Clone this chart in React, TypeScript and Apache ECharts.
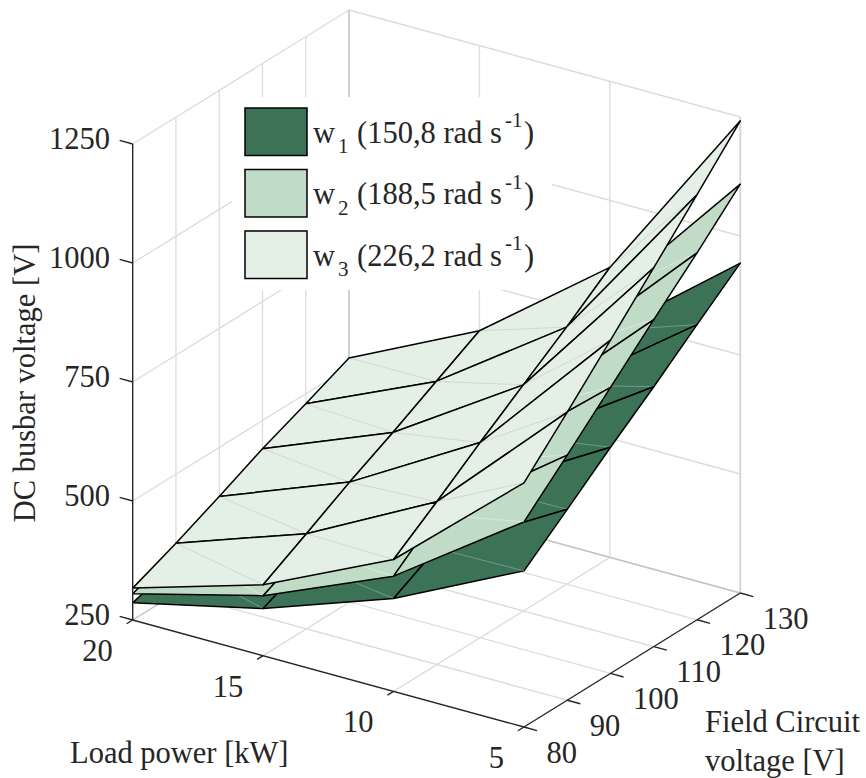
import React, { useEffect, useRef } from "react";
import * as echarts from "echarts";

const loadPower = [20, 15, 10, 5];
const fieldVoltage = [80, 90, 100, 110, 120, 130];
const busbarTicks = [250, 500, 750, 1000, 1250];
const gridLoad = [15, 10];
const gridVoltage = [90, 100, 110, 120];

// rows follow loadPower, columns follow fieldVoltage
const w1Values = [
  [286, 315, 345, 375, 405, 435],
  [349, 390, 430, 470, 510, 550],
  [445, 494, 567, 616, 668, 727],
  [578, 651, 725, 796, 870, 943],
];
const w2Values = [
  [305, 340, 375, 410, 445, 480],
  [376, 420, 465, 510, 555, 600],
  [492, 565, 622, 676, 748, 805],
  [681, 765, 851, 937, 1021, 1109],
];
const w3Values = [
  [317, 355, 397, 441, 479, 519],
  [399, 450, 502, 550, 601, 651],
  [527, 592, 660, 725, 790, 859],
  [763, 855, 950, 1046, 1143, 1242],
];

const legendNames = ["w", "w", "w"];
const legendSubs = ["1", "2", "3"];
const legendSpeeds = ["(150,8 rad s", "(188,5 rad s", "(226,2 rad s"];
const surfaceColors = ["#3c7357", "#c1dcc6", "#e4efe6"];
const seamColors = ["rgba(255,255,255,0.4)", "rgba(255,255,255,0.55)", "rgba(120,140,125,0.3)"];

const INK = "#262626";
const FONT = '"Liberation Serif", serif';
const FS = 30.5;

// orthographic projection of the 3D box onto the plot plane
const proj = (p: number, v: number, z: number): [number, number] => [
  132.7 + ((20 - p) / 15) * 391.3 + ((v - 80) / 50) * 216.3,
  620 + ((20 - p) / 15) * 107 - ((v - 80) / 50) * 134 - (z - 250) * 0.476,
];

type Seg = [[number, number, number], [number, number, number], string, number];

const gridSegs = (): Seg[] => {
  const s: Seg[] = [];
  const G = "#dcdcdc";
  const E = "#c4c4c4";
  for (const z of busbarTicks) {
    s.push([[20, 80, z], [20, 130, z], G, 1.3]);
    s.push([[20, 130, z], [5, 130, z], G, 1.3]);
  }
  for (const v of gridVoltage) {
    s.push([[20, v, 250], [20, v, 1250], G, 1.3]);
    s.push([[20, v, 250], [5, v, 250], G, 1.3]);
  }
  for (const p of gridLoad) {
    s.push([[p, 130, 250], [p, 130, 1250], G, 1.3]);
    s.push([[p, 80, 250], [p, 130, 250], G, 1.3]);
  }
  s.push([[20, 130, 250], [20, 130, 1250], E, 1.6]);
  s.push([[5, 130, 250], [5, 130, 1250], "#d4d4d4", 1.8]);
  s.push([[20, 130, 250], [5, 130, 250], E, 1.3]);
  s.push([[20, 80, 250], [20, 130, 250], E, 1.3]);
  return s;
};

const axisSegs = (): Seg[] => {
  const s: Seg[] = [];
  s.push([[20, 80, 250], [20, 80, 1250], INK, 1.4]);
  s.push([[20, 80, 250], [5, 80, 250], INK, 1.4]);
  s.push([[5, 80, 250], [5, 130, 250], INK, 1.4]);
  for (const z of busbarTicks) s.push([[20, 80, z], [20.5, 80, z], INK, 1.4]);
  for (const p of loadPower) s.push([[p, 80, 250], [p, 78.6, 250], INK, 1.4]);
  for (const v of fieldVoltage) s.push([[5, v, 250], [4.5, v, 250], INK, 1.4]);
  return s;
};

const lineSeries = (name: string, segs: Seg[], z: number) => ({
  type: "custom",
  name,
  coordinateSystem: "cartesian2d",
  silent: true,
  clip: false,
  z,
  data: segs.map((_, i) => [i]),
  renderItem: (params: any, api: any) => {
    const [a, b, color, w] = segs[params.dataIndex];
    const p1 = api.coord(proj(a[0], a[1], a[2]));
    const p2 = api.coord(proj(b[0], b[1], b[2]));
    return {
      type: "line",
      shape: { x1: p1[0], y1: p1[1], x2: p2[0], y2: p2[1] },
      style: { stroke: color, lineWidth: w, fill: "none" },
    };
  },
});

const surfaceSeries = (name: string, values: number[][], idx: number) => {
  const cells: number[][] = [];
  for (let i = 0; i < loadPower.length - 1; i++)
    for (let j = fieldVoltage.length - 2; j >= 0; j--) cells.push([i, j]);
  return {
    type: "custom",
    name,
    coordinateSystem: "cartesian2d",
    silent: true,
    clip: false,
    z: 2 + idx,
    data: cells,
    renderItem: (params: any, api: any) => {
      const [i, j] = cells[params.dataIndex];
      const pt = (a: number, b: number) =>
        api.coord(proj(loadPower[a], fieldVoltage[b], values[a][b]));
      const a = pt(i, j);
      const b = pt(i + 1, j);
      const c = pt(i + 1, j + 1);
      const d = pt(i, j + 1);
      return {
        type: "group",
        children: [
          {
            type: "polygon",
            z2: 1,
            shape: { points: [a, b, c, d] },
            style: { fill: surfaceColors[idx], stroke: "#000", lineWidth: 1.5, lineJoin: "round" },
          },
          {
            type: "line",
            z2: 1,
            shape: { x1: b[0], y1: b[1], x2: d[0], y2: d[1] },
            style: { stroke: seamColors[idx], lineWidth: 0.7, fill: "none" },
          },
        ],
      };
    },
  };
};

const txt = (
  text: string,
  x: number,
  y: number,
  align: string,
  size = FS,
  extra: any = {}
) => ({
  type: "text",
  z: 101,
  x,
  y,
  ...extra,
  style: { text, x: 0, y: 0, font: `${size}px ${FONT}`, fill: INK, align, verticalAlign: "middle" },
});

const graphics = (): any[] => {
  const g: any[] = [];
  g.push({
    type: "rect",
    z: 100,
    shape: { x: 232, y: 97, width: 320, height: 193 },
    style: { fill: "#fff", stroke: "none" },
  });
  legendSpeeds.forEach((speed, i) => {
    const top = 108 + i * 61.5;
    const base = 140 + i * 61.5;
    g.push({
      type: "rect",
      z: 101,
      shape: { x: 245, y: top, width: 62, height: 47.5 },
      style: { fill: surfaceColors[i], stroke: "#000", lineWidth: 1.5 },
    });
    g.push(txt(legendNames[i], 313, base - 7.5, "left"));
    g.push(txt(legendSubs[i], 338, base + 6, "left", 21));
    g.push(txt(speed, 357, base - 7.5, "left"));
    g.push(txt("-1", 505, base - 20, "left", 21));
    g.push(txt(")", 524, base - 7.5, "left"));
  });
  busbarTicks.forEach((z) => {
    const [, y] = proj(20, 80, z);
    g.push(txt(String(z), 110, y - 5, "right"));
  });
  loadPower.forEach((p) => {
    const [x, y] = proj(p, 80, 250);
    g.push(txt(String(p), x - 20, y + 31, "right"));
  });
  fieldVoltage.forEach((v) => {
    const [x, y] = proj(5, v, 250);
    g.push(txt(String(v), x + 22.5, y + 25.5, "left"));
  });
  g.push(txt("Load power [kW]", 70, 753, "left"));
  g.push(txt("Field Circuit", 705, 722, "left"));
  g.push(txt("voltage [V]", 705, 761, "left"));
  g.push(txt("DC busbar voltage [V]", 25, 383, "center", FS, { rotation: Math.PI / 2 }));
  return g;
};

export default function App() {
  const ref = useRef<HTMLDivElement>(null);
  useEffect(() => {
    document.body.style.margin = "0";
    const chart = echarts.init(ref.current!, undefined, { renderer: "svg" });
    chart.setOption({
      animation: false,
      backgroundColor: "#fff",
      grid: { left: 0, top: 0, width: 866, height: 778, containLabel: false },
      xAxis: { type: "value", min: 0, max: 866, show: false },
      yAxis: { type: "value", min: 0, max: 778, inverse: true, show: false },
      graphic: { elements: graphics() },
      series: [
        lineSeries("grid", gridSegs(), 1),
        surfaceSeries("w1", w1Values, 0),
        surfaceSeries("w2", w2Values, 1),
        surfaceSeries("w3", w3Values, 2),
        lineSeries("axes", axisSegs(), 10),
      ],
    });
    return () => chart.dispose();
  }, []);
  return <div ref={ref} style={{ position: "absolute", left: 0, top: 0, width: 866, height: 778, overflow: "hidden" }} />;
}
